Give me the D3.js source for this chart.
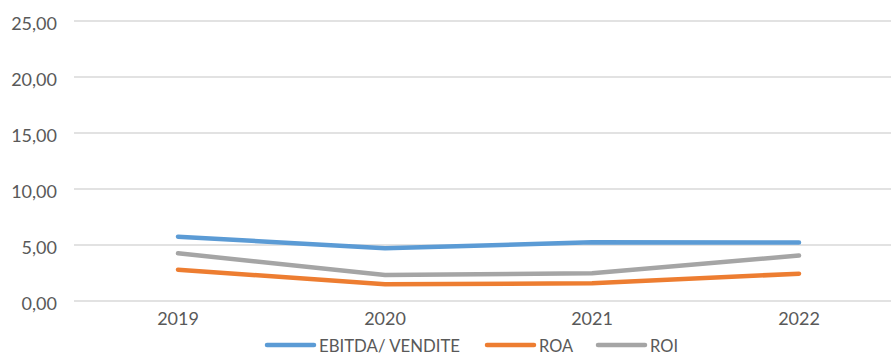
<!DOCTYPE html>
<html>
<head>
<meta charset="utf-8">
<script src="https://cdn.jsdelivr.net/npm/d3@7"></script>
<style>
  html, body { margin: 0; padding: 0; background: #fff; }
  svg { display: block; }
  text { font-family: Lato, "Open Sans", sans-serif; fill: #595959; }
</style>
</head>
<body>
<svg id="chart" width="891" height="356"></svg>
<script>
// Years on the category axis
const years = ["2019", "2020", "2021", "2022"];
// Ratio values per year (percent)
const ebitdaVendite = [5.74, 4.70, 5.24, 5.22];
const roa = [2.80, 1.49, 1.59, 2.44];
const roi = [4.26, 2.32, 2.47, 4.06];
// Value-axis ticks
const yTicks = [0, 5, 10, 15, 20, 25];

const series = [
  { name: "EBITDA/ VENDITE", values: ebitdaVendite, color: "#5B9BD5" },
  { name: "ROA", values: roa, color: "#ED7D31" },
  { name: "ROI", values: roi, color: "#A5A5A5" }
];

const svg = d3.select("#chart");
const fmt = v => d3.format(".2f")(v).replace(".", ",");

const x = d3.scaleBand().domain(years).range([74.5, 902.5]);
const y = d3.scaleLinear().domain([0, 25]).range([301, 21]);

// Horizontal gridlines
svg.append("g")
  .selectAll("line")
  .data(yTicks)
  .join("line")
  .attr("x1", 74).attr("x2", 891)
  .attr("y1", d => y(d)).attr("y2", d => y(d))
  .attr("stroke", "#d9d9d9").attr("stroke-width", 1.3);

// Value axis labels
const yAxis = svg.append("g")
  .attr("transform", "translate(62,0)")
  .call(d3.axisLeft(y).tickValues(yTicks).tickFormat(fmt).tickSize(0).tickPadding(5));
yAxis.select(".domain").remove();
yAxis.selectAll("text")
  .attr("font-size", 18)
  .attr("font-family", "Lato, 'Open Sans', sans-serif")
  .attr("fill", "#595959")
  .attr("dy", "0.45em");

// Category axis labels
const xAxis = svg.append("g")
  .attr("transform", "translate(0,301)")
  .call(d3.axisBottom(x).tickSize(0).tickPadding(24));
xAxis.select(".domain").remove();
xAxis.selectAll("text")
  .attr("font-size", 18)
  .attr("font-family", "Lato, 'Open Sans', sans-serif")
  .attr("fill", "#595959")
  .attr("dy", "0");

// Series lines
const line = d3.line()
  .x((d, i) => x(years[i]) + x.bandwidth() / 2)
  .y(d => y(d));

svg.append("g")
  .selectAll("path")
  .data(series)
  .join("path")
  .attr("d", s => line(s.values))
  .attr("fill", "none")
  .attr("stroke", s => s.color)
  .attr("stroke-width", 4.5)
  .attr("stroke-linecap", "round")
  .attr("stroke-linejoin", "round");

// Legend
const legendItems = [
  { x: 267, w: 141 },
  { x: 487, w: 34 },
  { x: 598, w: 28 }
];
const lg = svg.append("g");
series.forEach((s, i) => {
  const it = legendItems[i];
  lg.append("line")
    .attr("x1", it.x).attr("x2", it.x + 47)
    .attr("y1", 345).attr("y2", 345)
    .attr("stroke", s.color).attr("stroke-width", 4.5)
    .attr("stroke-linecap", "round");
  lg.append("text")
    .attr("x", it.x + 52).attr("y", 352)
    .attr("font-size", 18)
    .attr("textLength", it.w)
    .attr("lengthAdjust", "spacingAndGlyphs")
    .text(s.name);
});
</script>
</body>
</html>
